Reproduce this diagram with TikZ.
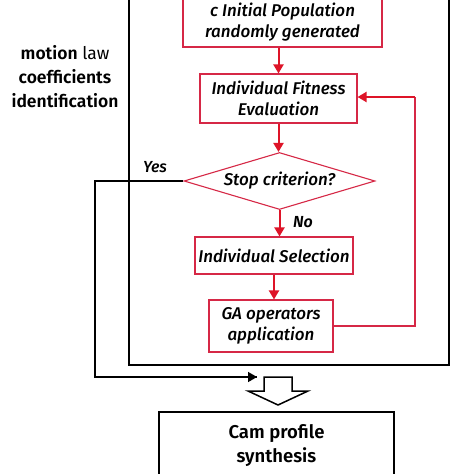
\documentclass[tikz,border=0pt]{standalone}
\usepackage{fontspec}
\setmainfont{Fira Sans}[ItalicFont={Fira Sans Medium Italic}, BoldItalicFont={Fira Sans SemiBold Italic}, BoldFont={Fira Sans SemiBold}]
\usetikzlibrary{arrows.meta,shapes.geometric}
\definecolor{gred}{RGB}{222,20,40}
\definecolor{bred}{RGB}{214,40,70}
\begin{document}
\begin{tikzpicture}[x=1pt,y=-1pt,
  rbox/.style={draw=bred, line width=1.1pt, inner sep=0pt, align=center, font=\itshape\fontsize{17}{21}\selectfont},
  rarrow/.style={draw=gred, line width=2pt, -{Triangle[length=9pt,width=10pt]}},
  karrow/.style={draw=black, line width=1.5pt, -{Triangle[length=9pt,width=10pt]}},
  lbl/.style={font=\itshape\fontsize{16}{18}\selectfont, inner sep=0pt}]
\useasboundingbox (0,0) rectangle (474,474);
\clip (0,0) rectangle (474,474);
\fill[white] (0,0) rectangle (474,474);
% outer black box
\draw[line width=1.8pt] (129,-10) rectangle (449,365);
% flowchart nodes
\node[rbox, minimum width=199pt, minimum height=49pt] (init) at (282.5,22.5) {c Initial Population\\randomly generated};
\node[rbox, minimum width=157pt, minimum height=49pt] (fit) at (278.5,98.5) {Individual Fitness\\Evaluation};
\node[draw=bred, line width=1.1pt, diamond, aspect=3.35, inner sep=0pt, minimum width=191pt, minimum height=57pt] (dia) at (279.5,181) {};
\node[lbl, font=\itshape\fontsize{17}{18}\selectfont] (diatext) at (dia.center) {Stop criterion?};
\node[rbox, minimum width=158pt, minimum height=37pt] (sel) at (274,255.5) {Individual Selection};
\node[rbox, minimum width=124pt, minimum height=52pt] (ga) at (271,326) {GA operators\\application};
% arrows
\draw[rarrow] (init.south -| fit.north) -- (fit.north);
\draw[rarrow] (fit.south) -- (fit.south |- dia.north);
\draw[rarrow] (dia.south) -- (dia.south |- sel.north);
\draw[rarrow] (sel.south) -- (sel.south |- ga.north);
\coordinate (fb) at (415,326);
\coordinate (fbt) at (415,97);
\draw[draw=bred, line width=1.1pt] (ga.east) -- (fb) -- (fbt);
\draw[rarrow] (fbt) -- (fit.east |- fbt);
% labels
\node[lbl] (no) at (303,222) {\bfseries No};
\node[lbl] (yes) at (155,167) {Yes};
% yes path
\coordinate (y1) at (95,181);
\coordinate (y2) at (95,377);
\coordinate (y3) at (257,377);
\draw[line width=1.5pt] (dia.west) -- (y1) -- (y2) -- (y3);
\draw[karrow] (240,377) -- (y3);
% hollow arrow
\draw[line width=1.5pt, fill=white] (264,377) -- (292,377) -- (292,391) -- (308,391) -- (278,405) -- (248,391) -- (264,391) -- cycle;
% cam box
\node[draw, line width=1.8pt, minimum width=235pt, minimum height=68pt, inner sep=0pt, align=center, font=\bfseries\fontsize{18.5}{24}\selectfont] (cam) at (276.5,446) {Cam profile\\synthesis};
% side label
\node[align=center, font=\fontsize{17.5}{24}\selectfont, inner sep=0pt] (side) at (65,77) {\textbf{motion} law\\\textbf{coefficients}\\\textbf{identification}};
\end{tikzpicture}
\end{document}
